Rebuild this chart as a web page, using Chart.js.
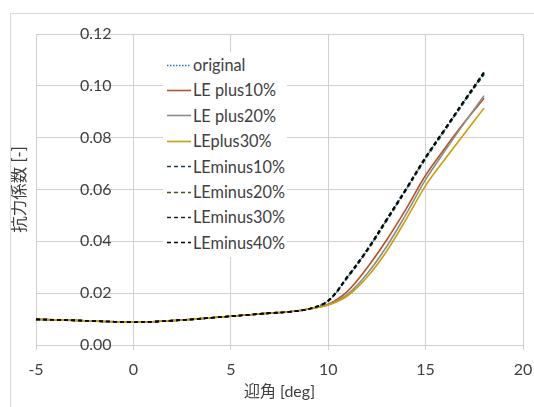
<!DOCTYPE html>
<html>
<head>
<meta charset="utf-8">
<script src="https://cdn.jsdelivr.net/npm/chart.js@4/dist/chart.umd.min.js"></script>
<style>
  html, body { margin: 0; padding: 0; background: #fff; }
  #wrap { position: relative; width: 534px; height: 407px; overflow: hidden; }
  #frame { position: absolute; left: 10px; top: 13px; width: 600px; height: 500px;
           border-left: 1px solid #d9d9d9; border-top: 1px solid #d9d9d9; }
  #legend { position: absolute; left: 163px; top: 52px; width: 124px; height: 205px;
            background: #fff; font-family: Lato, "Noto Sans CJK JP", sans-serif; font-size: 16.3px; color: #404040; }
  .row { position: absolute; left: 0; height: 25.4px; width: 124px; }
  .row svg { position: absolute; left: 4px; top: 11.7px; }
  .row span { position: absolute; left: 30px; top: 0; line-height: 25.4px; white-space: nowrap; }
</style>
</head>
<body>
<div id="wrap">
  <div id="frame"></div>
  <canvas id="c" width="534" height="407"></canvas>
  <div id="legend"></div>
</div>
<script>
// ---- data ----
const angles = [-5,-4,-3,-2,-1,0,1,2,3,4,5,6,7,8,9,10,11,12,13,14,15,16,17,18];
const low = [0.0099,0.0097,0.0095,0.0092,0.0090,0.0088,0.0090,0.0094,0.0099,0.0105,0.0111,0.0117,0.0123,0.0128,0.0139];
const original     = low.concat([0.0170,0.0262,0.0365,0.0482,0.0600,0.0722,0.0832,0.0942,0.1052]);
const lePlus10     = low.concat([0.0157,0.0208,0.0298,0.0405,0.0525,0.0655,0.0760,0.0860,0.0952]);
const lePlus20     = low.concat([0.0155,0.0196,0.0275,0.0380,0.0505,0.0638,0.0750,0.0858,0.0962]);
const lePlus30     = low.concat([0.0154,0.0190,0.0262,0.0362,0.0485,0.0615,0.0718,0.0816,0.0914]);
const leMinus10    = low.concat([0.0171,0.0265,0.0368,0.0485,0.0603,0.0724,0.0833,0.0941,0.1046]);
const leMinus20    = low.concat([0.0169,0.0260,0.0362,0.0478,0.0597,0.0718,0.0828,0.0938,0.1044]);
const leMinus30    = low.concat([0.0172,0.0266,0.0369,0.0486,0.0604,0.0726,0.0836,0.0946,0.1054]);
const leMinus40    = low.concat([0.0170,0.0263,0.0366,0.0483,0.0601,0.0723,0.0834,0.0944,0.1050]);
const seriesNames  = ['original','LE plus10%','LE plus20%','LEplus30%','LEminus10%','LEminus20%','LEminus30%','LEminus40%'];
const seriesValues = [original, lePlus10, lePlus20, lePlus30, leMinus10, leMinus20, leMinus30, leMinus40];
const xTicks = [-5, 0, 5, 10, 15, 20];
const yTicks = [0, 0.02, 0.04, 0.06, 0.08, 0.10, 0.12];
const xTitle = '迎角 [deg]';
const yTitle = '抗力係数 [-]';

// ---- styles ----
const colors = ['#2e75b6','#b4532a','#8c8c8c','#c9a000','#203864','#385723','#262626','#000000'];
const dashes = [[1.5,1.5],[],[],[],[4,3],[4,3],[4,3],[4,3]];

const FONT = 'Lato, "Noto Sans CJK JP", sans-serif';
const TXT = '#404040';
const n = seriesNames.length;
const datasets = seriesNames.map((name, i) => ({
  label: name,
  data: angles.map((a, k) => ({x: a, y: seriesValues[i][k]})),
  borderColor: colors[i],
  backgroundColor: colors[i],
  borderWidth: 1.6,
  borderDash: dashes[i],
  pointRadius: 0,
  tension: 0.35,
  fill: false,
  order: n - 1 - i
}));

new Chart(document.getElementById('c'), {
  type: 'line',
  data: { datasets },
  options: {
    responsive: false,
    animation: false,
    events: [],
    layout: { padding: { top: 34, right: 11, left: 0, bottom: 0 } },
    plugins: { legend: { display: false }, tooltip: { enabled: false } },
    scales: {
      x: {
        type: 'linear', min: -5, max: 20,
        afterBuildTicks: s => { s.ticks = xTicks.map(v => ({value: v})); },
        afterFit: s => { s.height = 62; s.paddingLeft = 0; s.paddingRight = 0; },
        grid: { color: '#d0d0d0', lineWidth: 1, tickLength: 5, drawTicks: true },
        border: { color: '#d0d0d0' },
        ticks: { font: { family: FONT, size: 16 }, color: TXT, padding: 10, maxRotation: 0 },
        title: { display: true, text: xTitle, font: { family: FONT, size: 16 }, color: TXT, padding: { top: 0, bottom: 6 } }
      },
      y: {
        type: 'linear', min: 0, max: 0.12,
        afterBuildTicks: s => { s.ticks = yTicks.map(v => ({value: v})); },
        afterFit: s => { s.width = 36; s.paddingTop = 10; s.paddingBottom = 10; },
        grid: { color: '#d0d0d0', lineWidth: 1, drawTicks: false },
        border: { color: '#d0d0d0' },
        ticks: { mirror: true, padding: 44, font: { family: FONT, size: 16 }, color: TXT,
                 callback: v => v.toFixed(2) },
        title: { display: true, text: yTitle, font: { family: FONT, size: 16.5 }, color: TXT, padding: { top: 10, bottom: 0 } }
      }
    }
  }
});

// ---- HTML legend built from the series ----
const leg = document.getElementById('legend');
seriesNames.forEach((name, i) => {
  const row = document.createElement('div');
  row.className = 'row';
  row.style.top = (i * 25.4) + 'px';
  const dash = dashes[i].length ? dashes[i].join(' ') : 'none';
  row.innerHTML = '<svg width="24" height="3"><line x1="0" y1="1.5" x2="24" y2="1.5" stroke="' + colors[i] +
    '" stroke-width="1.6" stroke-dasharray="' + dash + '"/></svg><span>' + name + '</span>';
  leg.appendChild(row);
});
</script>
</body>
</html>
